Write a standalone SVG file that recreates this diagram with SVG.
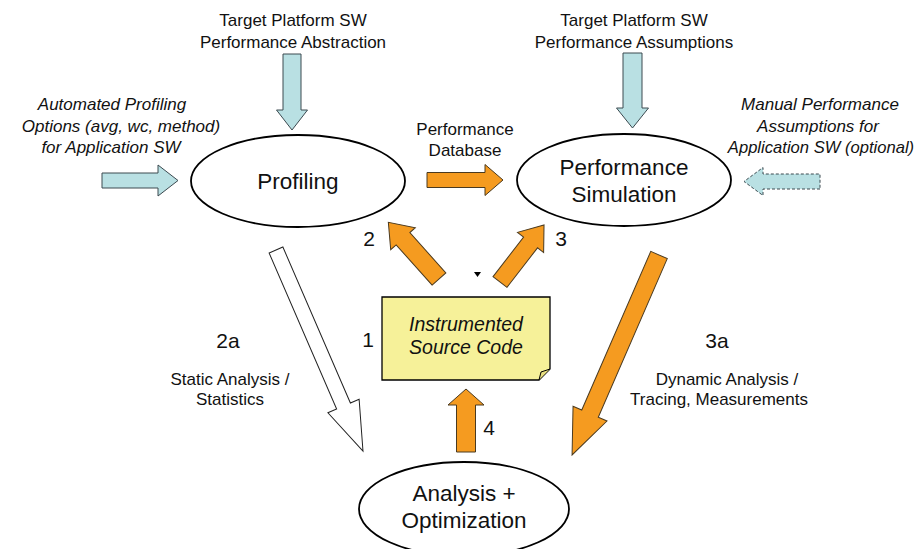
<svg xmlns="http://www.w3.org/2000/svg" width="919" height="549" viewBox="0 0 919 549">
  <style>
    text { font-family: "Liberation Sans", Arial, sans-serif; fill: #111; }
    .sm { font-size: 17px; text-anchor: middle; }
    .it { font-style: italic; }
    .node { font-size: 22.5px; text-anchor: middle; }
    .note { font-size: 19.5px; text-anchor: middle; font-style: italic; }
    .num { font-size: 21px; text-anchor: middle; }
    .ell { fill: #fff; stroke: #000; stroke-width: 1.8; }
    .blue { fill: #b9e0e3; stroke: #3c4a50; stroke-width: 1; }
    .orange { fill: #f59b20; stroke: #4a3a20; stroke-width: 1; }
    .hollow { fill: #fff; stroke: #222; stroke-width: 1; }
    .dash { stroke-dasharray: 3 2; }
  </style>

  <rect width="919" height="549" fill="#fff"/>

  <!-- Inputs and labels -->
  <g id="labels">
    <text class="sm" x="293" y="26">Target Platform SW</text>
    <text class="sm" x="293" y="48">Performance Abstraction</text>
    <text class="sm" x="634" y="26">Target Platform SW</text>
    <text class="sm" x="634" y="48">Performance Assumptions</text>
    <text class="sm it" x="112" y="110">Automated Profiling</text>
    <text class="sm it" x="121" y="132">Options (avg, wc, method)</text>
    <text class="sm it" x="111" y="153">for Application SW</text>
    <text class="sm it" x="820" y="110">Manual Performance</text>
    <text class="sm it" x="818" y="132">Assumptions for</text>
    <text class="sm it" x="821" y="153" style="font-size:16.6px">Application SW (optional)</text>
    <text class="sm" x="465" y="135">Performance</text>
    <text class="sm" x="465" y="156">Database</text>
    <text class="num" x="369" y="246">2</text>
    <text class="num" x="561" y="246">3</text>
    <text class="num" x="368" y="347">1</text>
    <text class="num" x="489" y="435">4</text>
    <text class="num" x="228" y="348">2a</text>
    <text class="num" x="717" y="348">3a</text>
    <text class="sm" x="230" y="385">Static Analysis /</text>
    <text class="sm" x="230" y="405">Statistics</text>
    <text class="sm" x="727" y="385">Dynamic Analysis /</text>
    <text class="sm" x="719" y="405">Tracing, Measurements</text>
  </g>

  <!-- Nodes -->
  <g id="profiling">
    <ellipse class="ell" cx="298" cy="181" rx="107" ry="46"/>
    <text class="node" x="298" y="189">Profiling</text>
  </g>
  <g id="simulation">
    <ellipse class="ell" cx="624" cy="180" rx="107" ry="46"/>
    <text class="node" x="624" y="175">Performance</text>
    <text class="node" x="624" y="202">Simulation</text>
  </g>
  <g id="analysis">
    <ellipse class="ell" cx="464" cy="509" rx="105" ry="47"/>
    <text class="node" x="464" y="501">Analysis +</text>
    <text class="node" x="464" y="528">Optimization</text>
  </g>
  <g id="source">
    <path d="M382,297 H550 V369 L539,380 H382 Z" fill="#f6f199" stroke="#000" stroke-width="1.3"/>
    <path d="M539,380 L541,372 L550,369" fill="#e8df80" stroke="#000" stroke-width="1"/>
    <text class="note" x="466" y="331">Instrumented</text>
    <text class="note" x="466" y="354">Source Code</text>
  </g>

  <!-- Connectors -->
  <g id="connectors">
    <!-- input arrows -->
    <path class="blue" transform="translate(292,54) rotate(90)" d="M0,-9 L56,-9 L56,-15.5 L76,0 L56,15.5 L56,9 L0,9 Z"/>
    <path class="blue" transform="translate(632.5,53) rotate(90)" d="M0,-9.5 L55,-9.5 L55,-16 L75,0 L55,16 L55,9.5 L0,9.5 Z"/>
    <path class="blue" transform="translate(102,180.5)" d="M0,-7.5 L56,-7.5 L56,-15.5 L76,0 L56,15.5 L56,7.5 L0,7.5 Z"/>
    <path class="blue dash" transform="translate(820,181.5) rotate(180)" d="M0,-7.5 L57,-7.5 L57,-14 L76,0 L57,14 L57,7.5 L0,7.5 Z"/>
    <!-- performance database -->
    <path class="orange" transform="translate(427,180)" d="M0,-7.5 L58,-7.5 L58,-15.5 L76,0 L58,15.5 L58,7.5 L0,7.5 Z"/>
    <!-- 2, 3, 4 -->
    <path class="orange" transform="translate(439,279) rotate(-131.8)" d="M0,-9.2 L54,-9.2 L54,-16.5 L76,0 L54,16.5 L54,9.2 L0,9.2 Z"/>
    <path class="orange" transform="translate(500,282) rotate(-52.3)" d="M0,-8.8 L50,-8.8 L50,-16.5 L72,0 L50,16.5 L50,8.8 L0,8.8 Z"/>
    <path class="orange" transform="translate(466,452) rotate(-90)" d="M0,-9.5 L47,-9.5 L47,-18 L63,0 L47,18 L47,9.5 L0,9.5 Z"/>
    <!-- 2a, 3a -->
    <path class="hollow" transform="translate(276,250) rotate(66.6)" d="M0,-7.5 L170,-7.5 L170,-17 L219,0 L170,17 L170,7.5 L0,7.5 Z"/>
    <path class="orange" transform="translate(659,255) rotate(113.5)" d="M0,-9 L173,-9 L173,-18.5 L218,0 L173,18.5 L173,9 L0,9 Z"/>
    <!-- small marker -->
    <path d="M474,272 L481,272 L477.5,277 Z" fill="#000"/>
  </g>
</svg>
